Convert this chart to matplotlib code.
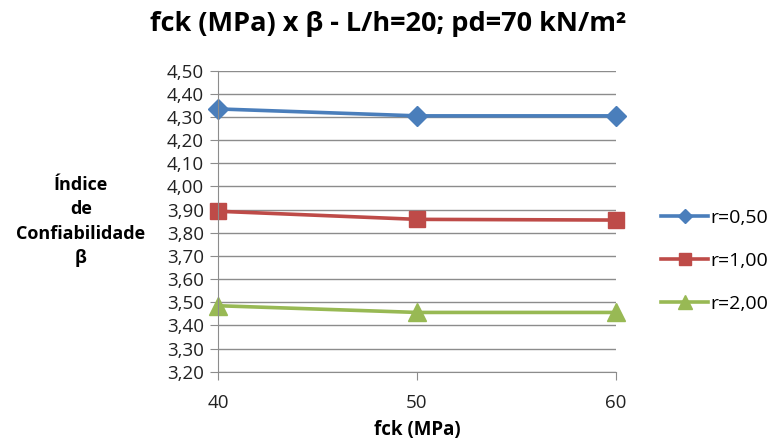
import matplotlib
matplotlib.use('Agg')
import matplotlib.pyplot as plt
from matplotlib.ticker import FuncFormatter, MultipleLocator

plt.rcParams['font.family'] = ['Open Sans', 'DejaVu Sans']

fck = [40, 50, 60]
r050 = [4.335, 4.305, 4.305]
r100 = [3.893, 3.858, 3.855]
r200 = [3.485, 3.456, 3.456]
labels = ['r=0,50', 'r=1,00', 'r=2,00']

fig = plt.figure(figsize=(7.71, 4.45), dpi=100)
ax = fig.add_axes([0.2827, 0.1647, 0.799 - 0.2827, 0.8411 - 0.1647])

ax.plot(fck, r050, color='#4A7EBB', lw=2.6, marker='D', ms=10, label=labels[0])
ax.plot(fck, r100, color='#BE4B48', lw=2.6, marker='s', ms=12, label=labels[1])
ax.plot(fck, r200, color='#98B954', lw=2.6, marker='^', ms=13, label=labels[2])

ax.set_xlim(40, 60)
ax.set_ylim(3.2, 4.5)
ax.set_xticks(fck)
ax.yaxis.set_major_locator(MultipleLocator(0.1))
ax.yaxis.set_major_formatter(FuncFormatter(lambda v, p: f'{v:.2f}'.replace('.', ',')))
ax.grid(axis='y', color='#8c8c8c', lw=1)
ax.set_axisbelow(True)
for s in ['top', 'right']:
    ax.spines[s].set_visible(False)
for s in ['left', 'bottom']:
    ax.spines[s].set_color('#8c8c8c')
ax.tick_params(axis='both', colors='#8c8c8c', length=6, labelsize=13.5, labelcolor='#222222')
ax.tick_params(axis='x', pad=10)
ax.tick_params(axis='y', pad=4)
for s in ax.get_lines():
    s.set_clip_on(False)

ax.set_xlabel('fck (MPa)', fontsize=13.5, fontweight='bold', labelpad=6)
fig.text(0.105, 0.502, 'Índice\nde\nConfiabilidade\nβ', ha='center', va='center',
         fontsize=13, fontweight='bold', linespacing=1.45)
fig.suptitle('fck (MPa) x β - L/h=20; pd=70 kN/m²', x=0.503, y=0.975, fontsize=19.5, fontweight='bold')

ax.legend(loc='center left', bbox_to_anchor=(1.07, 0.368), frameon=False, fontsize=14,
          handlelength=2.4, labelspacing=1.3, handletextpad=0.1, markerscale=0.75)

fig.savefig('out.png', dpi=100)
